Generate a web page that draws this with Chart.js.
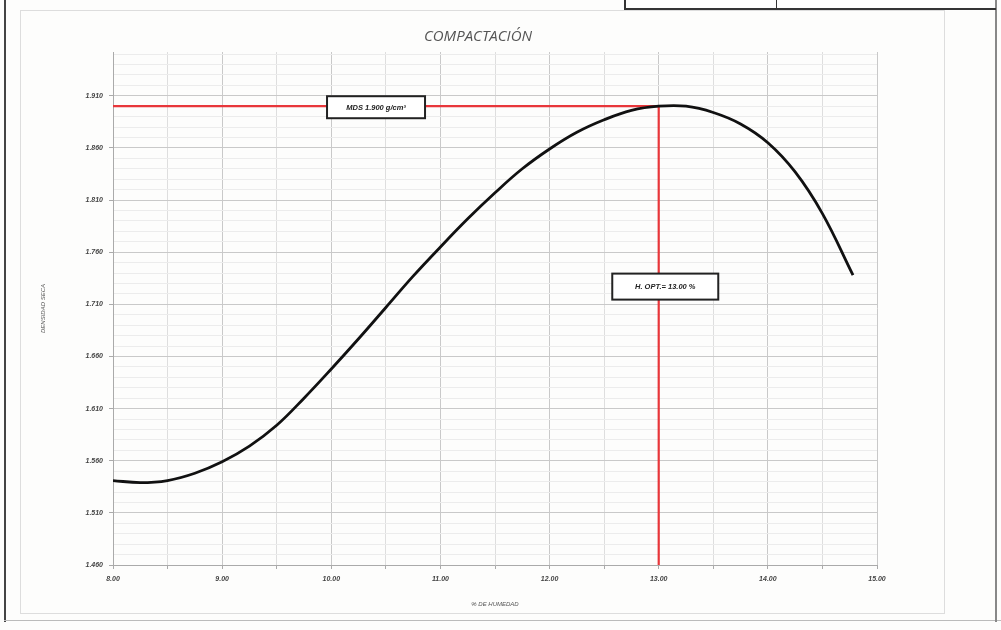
<!DOCTYPE html>
<html>
<head>
<meta charset="utf-8">
<script src="https://cdn.jsdelivr.net/npm/chart.js@4/dist/chart.umd.min.js"></script>
<style>
  html, body { margin: 0; padding: 0; background: #fff; }
  #page { position: relative; width: 1001px; height: 630px; overflow: hidden; background: #fdfdfc; }
  #wrap { position: absolute; left: 0; top: 0; width: 1001px; height: 630px; filter: blur(0.5px); }
  .ln { position: absolute; background: #333; }
</style>
</head>
<body>
<div id="page">
  <div id="wrap"><canvas id="c" width="1001" height="630"></canvas></div>
  <!-- sheet frame -->
  <div class="ln" style="left:4px;top:0;width:2px;height:622px;background:#444"></div>
  <div class="ln" style="left:4px;top:620px;width:997px;height:1px;background:#bbb"></div>
  <div class="ln" style="left:20px;top:10px;width:1px;height:604px;background:#ddd"></div>
  <div class="ln" style="left:20px;top:10px;width:925px;height:1px;background:#ddd"></div>
  <div class="ln" style="left:944px;top:10px;width:1px;height:604px;background:#ddd"></div>
  <div class="ln" style="left:20px;top:613px;width:925px;height:1px;background:#ddd"></div>
  <div class="ln" style="left:995px;top:0;width:2px;height:622px;background:#888"></div>
  <div class="ln" style="left:624px;top:0;width:2px;height:9px"></div>
  <div class="ln" style="left:624px;top:8px;width:372px;height:2px"></div>
  <div class="ln" style="left:776px;top:0;width:1px;height:9px"></div>
</div>
<script>
// Compaction test: dry density vs moisture content
const humedad  = [8.00, 8.25, 8.50, 8.75, 9.00, 9.25, 9.50, 9.75, 10.00, 10.25, 10.50, 10.75, 11.00, 11.25, 11.50, 11.75, 12.00, 12.25, 12.50, 12.75, 13.00, 13.25, 13.50, 13.75, 14.00, 14.25, 14.50, 14.78];
const densidad = [1.541, 1.539, 1.541, 1.548, 1.559, 1.574, 1.594, 1.620, 1.648, 1.677, 1.707, 1.737, 1.765, 1.792, 1.817, 1.840, 1.859, 1.875, 1.887, 1.896, 1.900, 1.900, 1.894, 1.883, 1.865, 1.837, 1.797, 1.738];

const mds = 1.900;      // maximum dry density, g/cm3
const hOpt = 13.00;     // optimum moisture content, %
const yTickValues = [1.460, 1.510, 1.560, 1.610, 1.660, 1.710, 1.760, 1.810, 1.860, 1.910];
const xTickValues = [8, 9, 10, 11, 12, 13, 14, 15];

const tickFont = { family: 'Liberation Sans', size: 7, style: 'italic', weight: 'bold' };

const labelsPlugin = {
  id: 'labels',
  afterDraw(chart) {
    const { ctx, scales: { x, y }, chartArea } = chart;
    ctx.save();
    // title
    ctx.fillStyle = '#555';
    ctx.font = 'italic 15px "Open Sans"';
    ctx.textAlign = 'center';
    ctx.textBaseline = 'middle';
    ctx.fillText('COMPACTACIÓN', 478, 37);
    // axis titles
    ctx.font = 'italic 6px "Liberation Sans"';
    ctx.fillStyle = '#555';
    ctx.fillText('% DE HUMEDAD', (chartArea.left + chartArea.right) / 2, 604);
    ctx.save();
    ctx.translate(43, (chartArea.top + chartArea.bottom) / 2);
    ctx.rotate(-Math.PI / 2);
    ctx.fillText('DENSIDAD SECA', 0, 0);
    ctx.restore();
    // value boxes
    const box = (cx, cy, w, h, text) => {
      ctx.fillStyle = '#fff';
      ctx.fillRect(cx - w / 2, cy - h / 2, w, h);
      ctx.strokeStyle = '#222';
      ctx.lineWidth = 2;
      ctx.strokeRect(cx - w / 2, cy - h / 2, w, h);
      ctx.fillStyle = '#222';
      ctx.font = 'italic bold 7.5px "Liberation Sans"';
      ctx.textAlign = 'center';
      ctx.textBaseline = 'middle';
      ctx.fillText(text, cx, cy + 0.5);
    };
    box(x.getPixelForValue(10.41), y.getPixelForValue(mds) + 1, 98, 22, 'MDS ' + mds.toFixed(3) + ' g/cm³');
    box(x.getPixelForValue(13.06), y.getPixelForValue(1.727), 106, 26, 'H. OPT.= ' + hOpt.toFixed(2) + ' %');
    ctx.restore();
  }
};

new Chart(document.getElementById('c'), {
  type: 'line',
  data: {
    datasets: [
      {
        data: humedad.map((h, i) => ({ x: h, y: densidad[i] })),
        borderColor: '#111',
        borderWidth: 2.8,
        pointRadius: 0,
        tension: 0.4,
        fill: false,
        order: 1
      },
      {
        data: [{ x: 8, y: mds }, { x: hOpt, y: mds }, { x: hOpt, y: 1.46 }],
        borderColor: '#e8363a',
        borderWidth: 2.2,
        pointRadius: 0,
        tension: 0,
        fill: false,
        order: 2
      }
    ]
  },
  options: {
    responsive: false,
    animation: false,
    layout: { padding: { left: 30, right: 124, top: 52, bottom: 0 } },
    plugins: { legend: { display: false }, tooltip: { enabled: false } },
    scales: {
      x: {
        type: 'linear',
        min: 8, max: 15,
        afterBuildTicks(scale) {
          const t = [];
          for (let v = 8; v <= 15.0001; v += 0.5) t.push({ value: Math.round(v * 2) / 2 });
          scale.ticks = t;
        },
        afterFit(scale) { scale.height = 65; },
        border: { color: '#aaa' },
        grid: {
          color: ctx => (Number.isInteger(ctx.tick.value) ? '#c9c9c9' : '#dedede'),
          tickLength: 4,
          tickColor: '#aaa'
        },
        ticks: {
          font: tickFont,
          color: '#444',
          padding: 6,
          maxRotation: 0,
          autoSkip: false,
          callback: v => (xTickValues.includes(v) ? v.toFixed(2) : '')
        }
      },
      y: {
        type: 'linear',
        min: 1.46, max: 1.952,
        afterBuildTicks(scale) {
          const t = [];
          for (let k = 0; k <= 49; k++) t.push({ value: Math.round((1.46 + k * 0.01) * 1000) / 1000 });
          scale.ticks = t;
        },
        afterFit(scale) { scale.width = 83; },
        border: { color: '#aaa' },
        grid: {
          color: ctx => (yTickValues.some(v => Math.abs(v - ctx.tick.value) < 1e-6) ? '#c9c9c9' : '#ececec'),
          tickLength: 4,
          tickColor: ctx => (yTickValues.some(v => Math.abs(v - ctx.tick.value) < 1e-6) ? '#aaa' : 'rgba(0,0,0,0)')
        },
        ticks: {
          font: tickFont,
          color: '#444',
          padding: 6,
          autoSkip: false,
          callback: v => (yTickValues.some(t => Math.abs(t - v) < 1e-6) ? v.toFixed(3) : '')
        }
      }
    }
  },
  plugins: [labelsPlugin]
});
</script>
</body>
</html>
